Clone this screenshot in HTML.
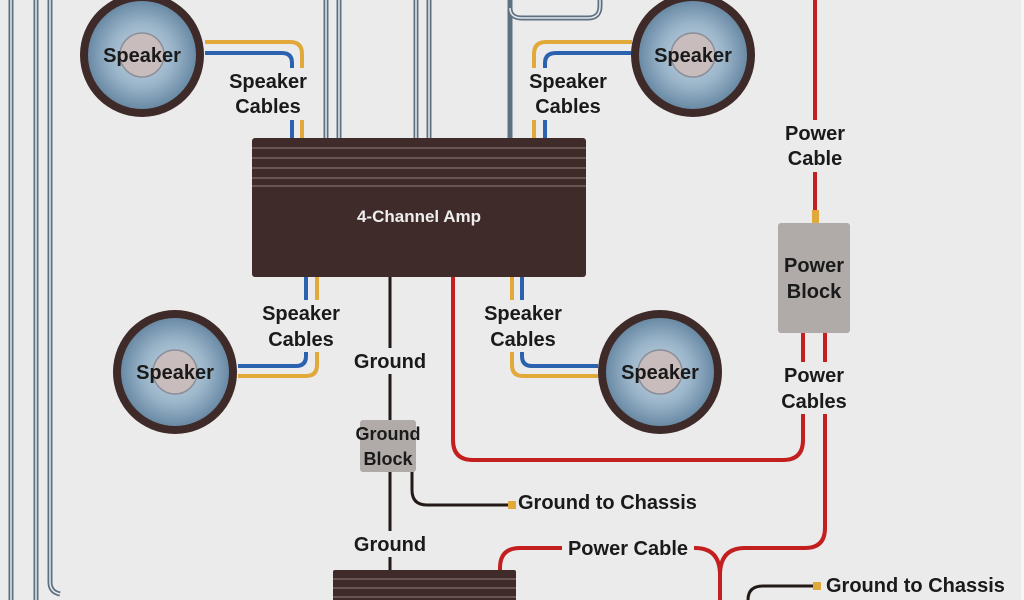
<!DOCTYPE html>
<html><head><meta charset="utf-8"><style>
html,body{margin:0;padding:0;background:#ebebeb;}
svg{display:block}
text{font-family:"Liberation Sans",sans-serif;font-weight:bold;fill:#1a1a1a;}
</style></head><body>
<svg width="1024" height="600" viewBox="0 0 1024 600" xmlns="http://www.w3.org/2000/svg">
<defs>
<radialGradient id="cone" cx="50%" cy="50%" r="50%">
<stop offset="0" stop-color="#c8d6e2"/><stop offset="0.6" stop-color="#98b3c8"/><stop offset="1" stop-color="#6a8aa5"/>
</radialGradient>
<g id="spk">
<circle r="62" fill="#3e2a28"/>
<circle r="54" fill="url(#cone)"/>
<circle r="22" fill="#c9bcbc" stroke="#8a8f9a" stroke-width="1.5"/>
</g>
</defs>
<rect width="1024" height="600" fill="#ebebeb"/>
<rect x="1021" y="0" width="3" height="600" fill="#f6f6f6"/>
<g fill="none" stroke="#5f7080" stroke-width="5">
<line x1="11" y1="0" x2="11" y2="600"/>
<line x1="36" y1="0" x2="36" y2="600"/>
<path d="M50 0 V582 Q50 592 60 594"/>
<line x1="326" y1="0" x2="326" y2="140"/>
<line x1="339" y1="0" x2="339" y2="140"/>
<line x1="416" y1="0" x2="416" y2="140"/>
<line x1="429" y1="0" x2="429" y2="140"/>
<path d="M510 140 V0 M510 8 Q510 18 522 18 H588 Q600 18 600 6 V0"/>
</g>
<g fill="none" stroke="#e3e9ee" stroke-width="1.5">
<line x1="11" y1="0" x2="11" y2="600"/>
<line x1="36" y1="0" x2="36" y2="600"/>
<path d="M50 0 V582 Q50 592 60 594"/>
<line x1="326" y1="0" x2="326" y2="140"/>
<line x1="339" y1="0" x2="339" y2="140"/>
<line x1="416" y1="0" x2="416" y2="140"/>
<line x1="429" y1="0" x2="429" y2="140"/>
<path d="M510 8 Q510 18 522 18 H588 Q600 18 600 6 V0"/>
</g>
<g fill="none" stroke-width="4">
<path d="M205 42 H290 Q302 42 302 54 V140" stroke="#e0a93a"/>
<path d="M205 53 H282 Q292 53 292 63 V140" stroke="#2a62b0"/>
<path d="M632 42 H546 Q534 42 534 54 V140" stroke="#e0a93a"/>
<path d="M632 53 H556 Q545 53 545 63 V140" stroke="#2a62b0"/>
<path d="M238 366 H296 Q306 366 306 356 V276" stroke="#2a62b0"/>
<path d="M238 376 H306 Q317 376 317 365 V276" stroke="#e0a93a"/>
<path d="M598 366 H532 Q522 366 522 356 V276" stroke="#2a62b0"/>
<path d="M598 376 H523 Q512 376 512 365 V276" stroke="#e0a93a"/>
</g>
<g fill="none" stroke="#c41f1f" stroke-width="4">
<line x1="815" y1="0" x2="815" y2="215"/>
<path d="M453 276 V440 Q453 460 473 460 H783 Q803 460 803 440 V333"/>
<path d="M825 333 V528 Q825 548 805 548 H745 Q720 548 720 575 V600"/>
<path d="M720 575 Q720 548 695 548 H520 Q500 548 500 568 V572"/>
</g>
<rect x="812" y="210" width="7" height="14" fill="#e0a93a"/>
<g fill="none" stroke="#231a18" stroke-width="3">
<line x1="390" y1="276" x2="390" y2="572"/>
<path d="M412 470 V490 Q412 505 427 505 H510"/>
<path d="M748 600 Q748 586 763 586 H815"/>
</g>
<rect x="508" y="501" width="8" height="8" fill="#e0a93a"/>
<rect x="813" y="582" width="8" height="8" fill="#e0a93a"/>
<rect x="252" y="138" width="334" height="139" rx="3" fill="#3f2c2a"/>
<g stroke="#6b5553" stroke-width="2">
<line x1="252" y1="148" x2="586" y2="148"/>
<line x1="252" y1="158" x2="586" y2="158"/>
<line x1="252" y1="168" x2="586" y2="168"/>
<line x1="252" y1="178" x2="586" y2="178"/>
<line x1="252" y1="186" x2="586" y2="186"/>
</g>
<text x="419" y="222" text-anchor="middle" font-size="17" style="fill:#eee">4-Channel Amp</text>
<rect x="333" y="570" width="183" height="32" rx="2" fill="#3f2c2a"/>
<g stroke="#6b5553" stroke-width="2">
<line x1="333" y1="579" x2="516" y2="579"/><line x1="333" y1="588" x2="516" y2="588"/><line x1="333" y1="597" x2="516" y2="597"/>
</g>
<rect x="778" y="223" width="72" height="110" rx="3" fill="#b0aaa9"/>
<rect x="360" y="420" width="56" height="52" rx="3" fill="#b0aaa9"/>
<use href="#spk" x="142" y="55"/>
<use href="#spk" x="693" y="55"/>
<use href="#spk" x="175" y="372"/>
<use href="#spk" x="660" y="372"/>
<g font-size="20" text-anchor="middle">
<text x="142" y="62">Speaker</text>
<text x="693" y="62">Speaker</text>
<text x="175" y="379">Speaker</text>
<text x="660" y="379">Speaker</text>
<rect x="225" y="68" width="90" height="52" fill="#ebebeb"/>
<text x="268" y="88">Speaker</text><text x="268" y="113">Cables</text>
<rect x="523" y="68" width="90" height="52" fill="#ebebeb"/>
<text x="568" y="88">Speaker</text><text x="568" y="113">Cables</text>
<rect x="256" y="300" width="90" height="52" fill="#ebebeb"/>
<text x="301" y="320">Speaker</text><text x="301" y="346">Cables</text>
<rect x="478" y="300" width="90" height="52" fill="#ebebeb"/>
<text x="523" y="320">Speaker</text><text x="523" y="346">Cables</text>
<rect x="780" y="120" width="70" height="52" fill="#ebebeb"/>
<text x="815" y="140">Power</text><text x="815" y="165">Cable</text>
<text x="814" y="272">Power</text><text x="814" y="298">Block</text>
<rect x="780" y="362" width="70" height="52" fill="#ebebeb"/>
<text x="814" y="382">Power</text><text x="814" y="408">Cables</text>
<rect x="350" y="348" width="80" height="26" fill="#ebebeb"/>
<text x="390" y="368">Ground</text>
<text x="388" y="440" font-size="18">Ground</text><text x="388" y="465" font-size="18">Block</text>
<rect x="350" y="531" width="80" height="26" fill="#ebebeb"/>
<text x="390" y="551">Ground</text>
<rect x="562" y="536" width="132" height="24" fill="#ebebeb"/>
<text x="628" y="555">Power Cable</text>
</g>
<g font-size="20">
<text x="518" y="509">Ground to Chassis</text>
<text x="826" y="592">Ground to Chassis</text>
</g>
</svg>
</body></html>
